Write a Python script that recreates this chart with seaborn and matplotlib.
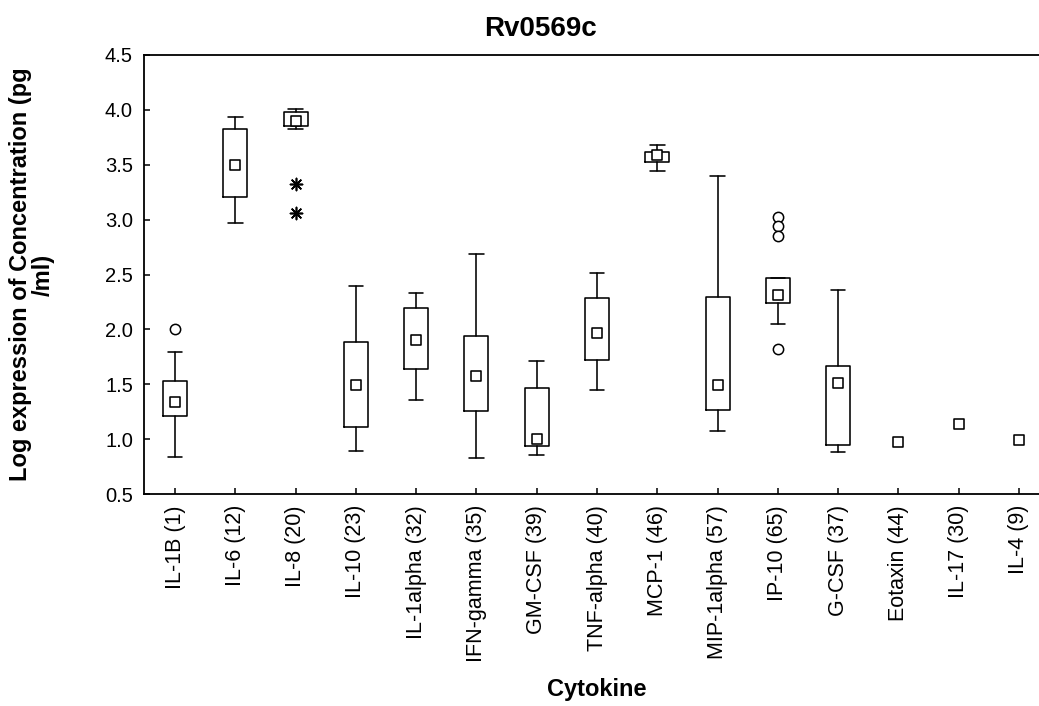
import matplotlib
matplotlib.use("Agg")
import matplotlib.pyplot as plt
import pandas as pd
import seaborn as sns

# Cytokine categories (sample counts in brackets)
cytokines = ["IL-1B (1)", "IL-6 (12)", "IL-8 (20)", "IL-10 (23)", "IL-1alpha (32)",
             "IFN-gamma (35)", "GM-CSF (39)", "TNF-alpha (40)", "MCP-1 (46)",
             "MIP-1alpha (57)", "IP-10 (65)", "G-CSF (37)", "Eotaxin (44)",
             "IL-17 (30)", "IL-4 (9)"]

# Box statistics (log pg/ml); None where only a median is available
medians = [1.335, 3.50, 3.90, 1.493, 1.906, 1.578, 1.00, 1.967, 3.59, 1.493,
           2.314, 1.511, 0.97, 1.138, 0.995]
q1 = [1.213, 3.21, 3.857, 1.113, 1.639, 1.256, 0.934, 1.718, 3.523, 1.262,
      2.243, 0.949, None, None, None]
q3 = [1.527, 3.827, 3.979, 1.888, 2.192, 1.943, 1.469, 2.289, 3.62, 2.295,
      2.466, 1.667, None, None, None]
whisker_low = [0.834, 2.97, 3.827, 0.894, 1.356, 0.825, 0.858, 1.448, 3.447,
               1.074, 2.049, 0.88, None, None, None]
whisker_high = [1.797, 3.939, 4.01, 2.399, 2.329, 2.69, 1.709, 2.511, 3.678,
                3.401, 2.466, 2.362, None, None, None]

# Outliers (circles) and extremes (asterisks)
outlier_cat = ["IL-1B (1)", "IP-10 (65)", "IP-10 (65)", "IP-10 (65)", "IP-10 (65)"]
outlier_val = [2.0, 3.022, 2.946, 2.855, 1.821]
extreme_cat = ["IL-8 (20)", "IL-8 (20)"]
extreme_val = [3.325, 3.06]

sns.set_style("ticks")
plt.rcParams["font.family"] = ["Liberation Sans", "DejaVu Sans"]
plt.rcParams.update({"text.color": "black", "axes.labelcolor": "black",
                     "xtick.color": "black", "ytick.color": "black",
                     "axes.edgecolor": "black"})

fig = plt.figure(figsize=(10.39, 7.06), dpi=100)
ax = fig.add_axes([144 / 1039, 1 - 494 / 706, 906 / 1039, 439 / 706])

pos = {c: i for i, c in enumerate(cytokines)}
line_kw = dict(color="black", linewidth=1.15)

stats = []
box_pos = []
for i, c in enumerate(cytokines):
    if q1[i] is None:
        continue
    stats.append(dict(med=medians[i], q1=q1[i], q3=q3[i],
                      whislo=whisker_low[i], whishi=whisker_high[i], fliers=[]))
    box_pos.append(i)

ax.bxp(stats, positions=box_pos, widths=0.4, capwidths=0.24, showfliers=False,
       boxprops=line_kw, whiskerprops=line_kw, capprops=line_kw,
       medianprops=dict(visible=False), manage_ticks=False)

med_df = pd.DataFrame({"x": [pos[c] for c in cytokines], "y": medians})
sns.scatterplot(data=med_df, x="x", y="y", marker="s", s=55, color="white",
                edgecolor="black", linewidth=1.15, ax=ax, zorder=3)

out_df = pd.DataFrame({"x": [pos[c] for c in outlier_cat], "y": outlier_val})
sns.scatterplot(data=out_df, x="x", y="y", marker="o", s=55, color="white",
                edgecolor="black", linewidth=1.1, ax=ax, zorder=3)

ext_df = pd.DataFrame({"x": [pos[c] for c in extreme_cat], "y": extreme_val})
sns.scatterplot(data=ext_df, x="x", y="y", marker=(8, 2, 0), s=75, color="black",
                linewidth=1.2, ax=ax, zorder=3)

ax.set_xlim(-0.515, 14.515)
ax.set_ylim(0.5, 4.5)
ax.set_yticks([0.5, 1.0, 1.5, 2.0, 2.5, 3.0, 3.5, 4.0, 4.5])
ax.set_yticklabels([f"{v:.1f}" for v in ax.get_yticks()])
ax.set_xticks(range(len(cytokines)))
ax.set_xticklabels(cytokines, rotation=90)
ax.tick_params(axis="both", direction="in", length=4, width=1.1, pad=8,
               colors="black")
ax.tick_params(axis="y", labelsize=14.5)
ax.tick_params(axis="x", labelsize=15.5)

for s in ax.spines.values():
    s.set_linewidth(1.3)
    s.set_color("black")

ax.set_xlabel("Cytokine", fontsize=17, fontweight="bold", labelpad=11)
ax.set_ylabel("Log expression of Concentration (pg\n/ml)", fontsize=17,
              fontweight="bold", linespacing=1.0)
ax.yaxis.set_label_coords(-0.098, 0.5)

fig.text(540 / 1039, 1 - 29 / 706, "Rv0569c", fontsize=20, fontweight="bold",
         ha="center", va="center")

fig.savefig("out.png", dpi=100)
